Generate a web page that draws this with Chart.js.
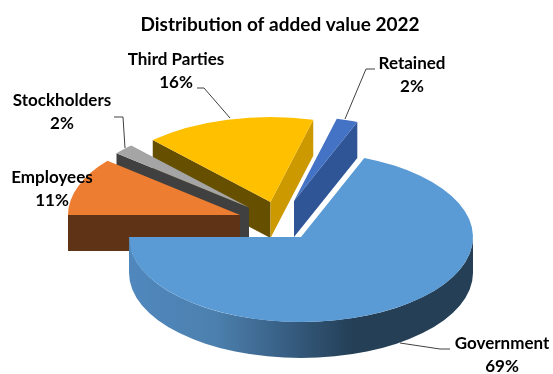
<!DOCTYPE html>
<html>
<head>
<meta charset="utf-8">
<title>Distribution of added value 2022</title>
<script src="https://cdn.jsdelivr.net/npm/chart.js"></script>
<style>
  html, body { margin: 0; padding: 0; background: #fff; }
  canvas { display: block; }
</style>
</head>
<body>
<canvas id="chart" width="553" height="374"></canvas>
<script>
// Share of added value per stakeholder, in percent
const categories = ['Government', 'Employees', 'Stockholders', 'Third Parties', 'Retained'];
const shares     = [69, 11, 2, 16, 2];

// ── Look of each slice ───────────────────────────────────────
const topColors  = ['#5b9bd5', '#ed7d31', '#a5a5a5', '#ffc000', '#4472c4'];
const wallColors = ['#243f56', '#5f3316', '#404040', '#665000', '#2f5597'];
const endWallColors = ['#243f56', '#5f3316', '#404040', '#cc9a00', '#2f5597'];

// ── Pseudo 3D layout ─────────────────────────────────────────
const pieRadius = 172;
const tilt      = 0.494;   // vertical squash of the disc
const depth     = 36;      // thickness of the disc
const sliceX    = [301, 240, 249, 270.5, 294];   // exploded slice tips
const sliceY    = [237, 215, 207.5, 202, 201];
const drawOrder = [3, 4, 2, 1, 0];               // back to front

// label centre x, first line y, then the leader line as x,y pairs
const labelX  = [502, 52, 62, 176, 412];
const labelY  = [344, 178, 101, 60, 64];
const leaders = [
  [[450, 349], [440, 349], [400, 343]],
  [],
  [[114, 117], [123, 117], [125, 148]],
  [[197, 88], [204, 88], [230, 118]],
  [[375, 69], [366, 69], [345, 119]]
];

function fillQuad(ctx, x, y, angle, color) {
  const ex = x + pieRadius * Math.cos(angle);
  const ey = y + pieRadius * tilt * Math.sin(angle);
  ctx.fillStyle = color;
  ctx.beginPath();
  ctx.moveTo(x, y);
  ctx.lineTo(ex, ey);
  ctx.lineTo(ex, ey + depth);
  ctx.lineTo(x, y + depth);
  ctx.closePath();
  ctx.fill();
}

// Draws the arc elements as a tilted exploded disc, instead of the flat default
const tiltedPie = {
  id: 'tiltedPie',
  beforeDatasetsDraw(chart) {
    const ctx = chart.ctx;
    const arcs = chart.getDatasetMeta(0).data;

    drawOrder.forEach(i => {
      const arc = arcs[i];
      const x = sliceX[i];
      const y = sliceY[i];

      // straight cut faces, only the ones turned towards the viewer
      if (-Math.cos(arc.startAngle) > 0) fillQuad(ctx, x, y, arc.startAngle, wallColors[i]);
      if (Math.cos(arc.endAngle) > 0) fillQuad(ctx, x, y, arc.endAngle, endWallColors[i]);

      // rim, the front half of the circle only
      const from = Math.max(arc.startAngle, 0);
      const to = Math.min(arc.endAngle, Math.PI);
      if (to > from) {
        const grad = ctx.createLinearGradient(x - pieRadius, 0, x + pieRadius, 0);
        grad.addColorStop(0, '#5088be');
        grad.addColorStop(0.25, '#4c80ae');
        grad.addColorStop(0.47, '#365c80');
        grad.addColorStop(0.65, wallColors[i]);
        grad.addColorStop(1, wallColors[i]);
        ctx.fillStyle = grad;
        ctx.beginPath();
        ctx.ellipse(x, y, pieRadius, pieRadius * tilt, 0, from, to, false);
        ctx.ellipse(x, y + depth, pieRadius, pieRadius * tilt, 0, to, from, true);
        ctx.closePath();
        ctx.fill();
      }

      // top face is the library's own arc, squashed and moved into place
      ctx.save();
      ctx.translate(x, y);
      ctx.scale(1, tilt);
      ctx.translate(-arc.x, -arc.y);
      arc.draw(ctx);
      ctx.restore();
    });

    // leader lines
    ctx.strokeStyle = '#404040';
    ctx.lineWidth = 1;
    leaders.forEach(pts => {
      if (!pts.length) return;
      ctx.beginPath();
      pts.forEach((p, n) => n ? ctx.lineTo(p[0], p[1]) : ctx.moveTo(p[0], p[1]));
      ctx.stroke();
    });

    // category + percent labels
    ctx.fillStyle = '#000';
    ctx.font = "bold 17px Lato";
    ctx.textAlign = 'center';
    ctx.textBaseline = 'middle';
    categories.forEach((name, i) => {
      ctx.fillText(name, labelX[i], labelY[i]);
      ctx.fillText(shares[i] + '%', labelX[i], labelY[i] + 23);
    });

    return false;  // the default flat arcs are not wanted
  }
};

new Chart(document.getElementById('chart'), {
  type: 'pie',
  data: {
    labels: categories,
    datasets: [{
      data: shares,
      backgroundColor: topColors,
      borderWidth: 0
    }]
  },
  options: {
    responsive: false,
    animation: false,
    events: [],
    rotation: 21.6,
    radius: pieRadius,
    layout: { padding: { left: 7 } },
    plugins: {
      legend: { display: false },
      tooltip: { enabled: false },
      title: {
        display: true,
        text: 'Distribution of added value 2022',
        color: '#000',
        font: { family: 'Lato', size: 19, weight: 'bold' },
        padding: { top: 13, bottom: 10 }
      }
    }
  },
  plugins: [tiltedPie]
});
</script>
</body>
</html>
